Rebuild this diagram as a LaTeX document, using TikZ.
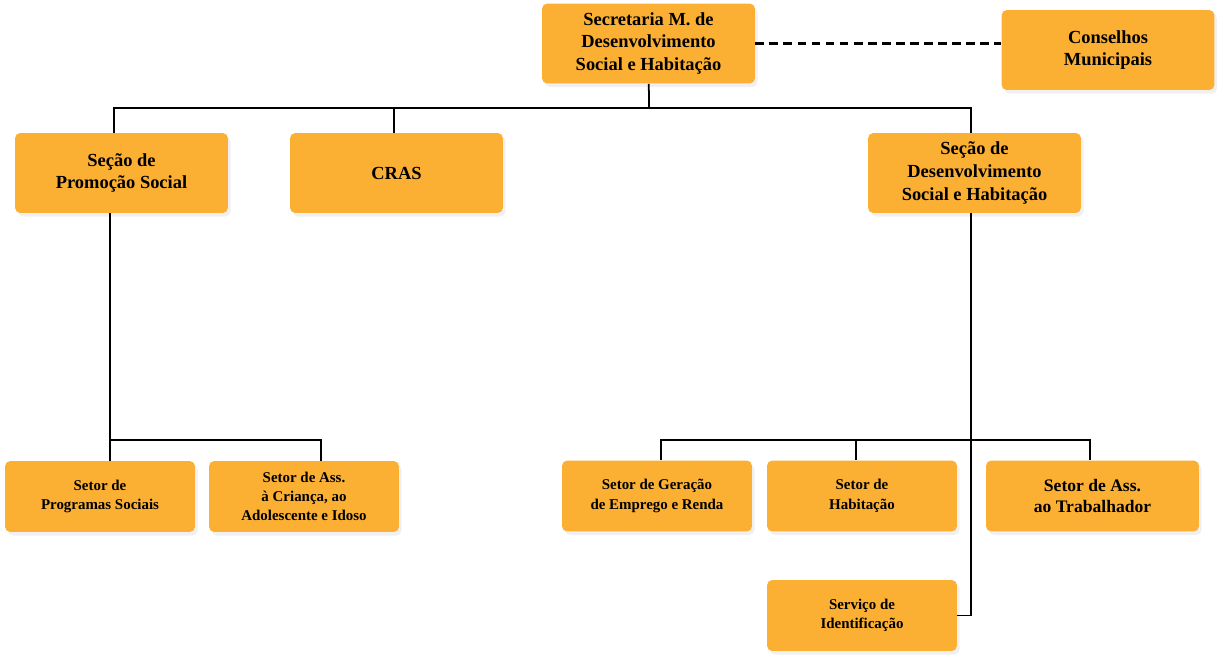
\documentclass[tikz,border=0pt]{standalone}
\usepackage{fontspec}
\setmainfont{Liberation Serif}
\usetikzlibrary{calc,shadows}
\definecolor{laranja}{HTML}{FBB033}
\tikzset{
  caixa/.style={fill=laranja, rounded corners=3pt, align=center, font=\bfseries\fontsize{10.5}{13}\selectfont,
    minimum width=4.26cm, minimum height=1.6cm, inner sep=2pt,
    drop shadow={opacity=0.12, shadow xshift=1.5pt, shadow yshift=-2pt}},
  setor/.style={caixa, font=\bfseries\fontsize{8.5}{11}\selectfont, minimum width=3.8cm, minimum height=1.42cm},
  linha/.style={line width=1pt}
}
\begin{document}
\begin{tikzpicture}[x=0.02cm, y=-0.02cm]
        \useasboundingbox (0,0) rectangle (1220,655);
        % nivel 1
        \node[caixa] (sec) at (648.5,43.5) {Secretaria M. de\\Desenvolvimento\\Social e Habitação};
        \node[caixa] (cons) at (1108,50) {Conselhos\\Municipais};
        % nivel 2
        \node[caixa] (prom) at (121.5,173) {Seção de\\Promoção Social};
        \node[caixa] (cras) at (396.5,173) {CRAS};
        \node[caixa] (dev) at (974.5,173) {Seção de\\Desenvolvimento\\Social e Habitação};
        % setores
        \node[setor] (prog) at (100,496.5) {Setor de\\Programas Sociais};
        \node[setor] (cri) at (304,496.5) {Setor de Ass.\\à Criança, ao\\Adolescente e Idoso};
        \node[setor] (ger) at (657,496) {Setor de Geração\\de Emprego e Renda};
        \node[setor] (hab) at (862,496) {Setor de\\Habitação};
        \node[setor, font=\bfseries\fontsize{10}{12}\selectfont, minimum width=4.26cm] (trab) at (1092.5,496) {Setor de Ass.\\ao Trabalhador};
        \node[setor] (serv) at (862,615.5) {Serviço de\\Identificação};
        % ligacoes
        \coordinate (bus) at (649,108);
        \coordinate (lbus) at (110,440);
        \coordinate (rbus) at (971,440);
        \draw[linha] (sec) -- (bus);
        \draw[linha] ($(prom.north)+(-7.5,0)$) |- (bus);
        \draw[linha] ($(cras.north)+(-2.5,0)$) |- (bus);
        \draw[linha] ($(dev.north)+(-3.5,0)$) |- (bus);
        \draw[linha, line width=1.2pt, dash pattern=on 5pt off 3pt] (sec.east) -- (sec.east -| cons.west);
        \draw[linha] ($(prom.south)+(-11.5,0)$) -- ($(prog.north)+(10,0)$);
        \draw[linha] ($(cri.north)+(17,0)$) |- (lbus);
        \draw[linha] ($(dev.south)+(-3.5,0)$) |- (serv.east);
        \draw[linha] ($(ger.north)+(4,0)$) |- (rbus);
        \draw[linha] ($(hab.north)+(-6,0)$) |- (rbus);
        \draw[linha] ($(trab.north)+(-2.5,0)$) |- (rbus);
    \end{tikzpicture}
\end{document}
